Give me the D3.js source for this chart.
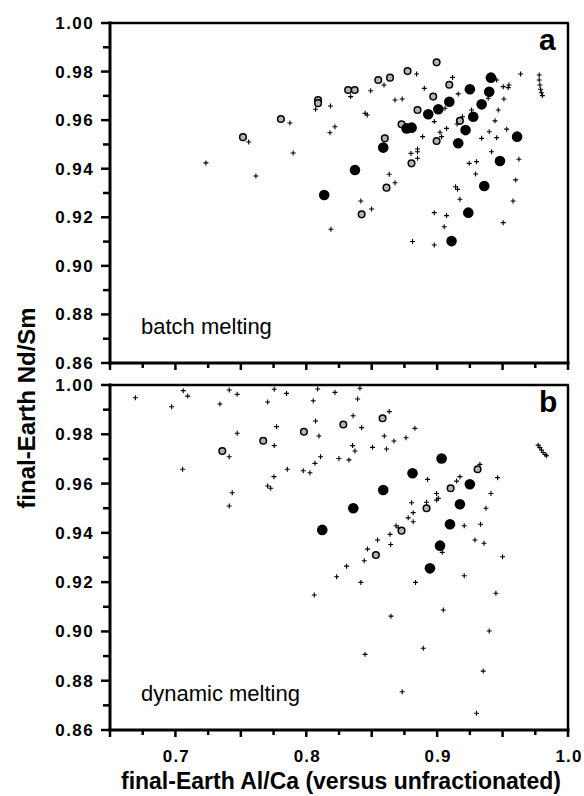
<!DOCTYPE html>
<html>
<head>
<meta charset="utf-8">
<script src="https://cdn.jsdelivr.net/npm/d3@7"></script>
<style>
  body { margin: 0; background: #fff; }
  svg text { font-family: "Liberation Sans", Arial, sans-serif; }
</style>
</head>
<body>
<div id="chart"></div>
<script>
// panel a: batch melting, [Al/Ca, Nd/Sm]
const batchCross = [
  [0.7875,0.9588],[0.756,0.951],[0.7233,0.9424],[0.7615,0.937],[0.790,0.9465],
  [0.8843,0.979],[0.9118,0.9776],[0.8902,0.9731],[0.9161,0.9708],[0.8492,0.9721],
  [0.8339,0.9697],[0.8594,0.9745],[0.8678,0.9683],[0.8733,0.9687],[0.8185,0.9658],
  [0.8071,0.9645],[0.845,0.9628],[0.8466,0.9621],[0.8219,0.9573],[0.8181,0.9548],
  [0.8978,0.9594],[0.906,0.9649],[0.9072,0.9566],[0.9022,0.955],[0.9034,0.9532],
  [0.8889,0.9532],[0.9153,0.9584],[0.9194,0.9614],[0.9263,0.9642],
  [0.885,0.9481],[0.885,0.947],[0.88,0.9463],[0.885,0.9443],[0.9245,0.9422],
  [0.9301,0.9429],[0.9294,0.9378],
  [0.934,0.9525],[0.9398,0.9552],[0.9455,0.9528],[0.9467,0.9642],[0.9442,0.9597],
  [0.9531,0.9563],[0.9416,0.947],[0.9455,0.9765],[0.939,0.969],[0.9505,0.9738],
  [0.9543,0.9734],[0.9549,0.9745],[0.951,0.9687],[0.9638,0.979],
  [0.978,0.9786],[0.978,0.9765],[0.9785,0.9745],[0.979,0.9727],[0.9797,0.9713],[0.9804,0.9701],
  [0.9625,0.9439],[0.96,0.9354],[0.8634,0.9377],[0.8678,0.9342],[0.9141,0.9326],
  [0.9156,0.9315],[0.9174,0.9274],[0.958,0.9267],[0.8417,0.9267],[0.8499,0.9234],
  [0.8978,0.9219],[0.9072,0.9207],[0.9054,0.9161],[0.9505,0.9178],[0.8188,0.9151],
  [0.8812,0.91],[0.8978,0.9086]
];
const batchGray = [
  [0.7806,0.9605],[0.7516,0.953],[0.809,0.9683],[0.809,0.967],[0.832,0.9724],
  [0.837,0.9724],[0.855,0.9765],[0.864,0.9775],[0.8774,0.9802],[0.8996,0.9838],
  [0.9093,0.9746],[0.897,0.9697],[0.885,0.9642],[0.8728,0.9583],[0.86,0.9525],
  [0.8996,0.9514],[0.9174,0.9597],[0.8804,0.9422],[0.8613,0.9322],[0.8423,0.9212]
];
const batchBlack = [
  [0.9411,0.9775],[0.9398,0.9717],[0.925,0.9727],[0.934,0.9665],[0.9276,0.9614],
  [0.9217,0.9559],[0.9161,0.9505],[0.9093,0.9676],[0.9009,0.9645],[0.8932,0.9624],
  [0.8805,0.9569],[0.8767,0.9566],[0.8588,0.9487],[0.9611,0.9532],[0.948,0.9432],
  [0.8372,0.9395],[0.936,0.9329],[0.8137,0.9292],[0.9238,0.9219],[0.911,0.9102]
];

// panel b: dynamic melting
const dynCross = [
  [0.6694,0.9948],[0.6971,0.9912],[0.706,0.9977],[0.7094,0.9955],[0.7055,0.9658],
  [0.734,0.9923],[0.7411,0.998],[0.7472,0.9962],[0.7472,0.9804],[0.7411,0.9709],
  [0.7434,0.9563],[0.7411,0.9509],[0.7755,0.9983],[0.7849,0.9966],[0.7705,0.9931],
  [0.7773,0.9831],[0.7755,0.9754],[0.7753,0.9628],[0.7705,0.959],[0.7728,0.9581],
  [0.7855,0.9658],
  [0.8087,0.9984],[0.8219,0.997],[0.841,0.9987],[0.8053,0.9936],[0.8392,0.9943],
  [0.8071,0.9854],[0.8097,0.9793],[0.8358,0.9875],[0.8423,0.9827],[0.8634,0.9892],
  [0.883,0.9824],[0.8596,0.9793],[0.867,0.9773],[0.8762,0.9786],[0.8354,0.9754],
  [0.8372,0.9732],[0.8506,0.9747],[0.8613,0.974],[0.8109,0.9709],[0.8066,0.9682],
  [0.8249,0.9702],[0.8326,0.9696],[0.7977,0.9652],[0.8028,0.9644],
  [0.9772,0.9756],[0.9785,0.9746],[0.9797,0.9736],[0.981,0.9726],[0.9825,0.9718],[0.9836,0.9713],
  [0.9327,0.9678],[0.9174,0.9628],[0.9149,0.961],[0.9462,0.9624],[0.9411,0.956],
  [0.9373,0.95],[0.9332,0.9435],[0.9207,0.9429],[0.9289,0.9371],[0.9358,0.9358],
  [0.95,0.9303],
  [0.8927,0.9617],[0.8996,0.956],[0.9009,0.954],[0.8996,0.9533],[0.8919,0.9524],
  [0.8805,0.9522],[0.8817,0.9482],[0.8779,0.9461],[0.8817,0.9445],[0.8686,0.9429],
  [0.8703,0.9421],[0.864,0.9394],[0.8645,0.9353],[0.8545,0.9371],[0.8468,0.9334],
  [0.8443,0.9287],[0.8308,0.9265],[0.9039,0.9321],
  [0.8232,0.9222],[0.8417,0.9199],[0.8061,0.9148],[0.8835,0.9199],[0.9207,0.9226],
  [0.9449,0.9155],[0.9047,0.9087],[0.8647,0.9062],[0.9398,0.9002],[0.8894,0.8932],
  [0.8449,0.8907],[0.9352,0.8839],[0.8733,0.8755],[0.9301,0.8668]
];
const dynGray = [
  [0.7358,0.9732],[0.7671,0.9774],[0.7982,0.981],[0.8283,0.984],[0.8583,0.9865],
  [0.9309,0.9658],[0.9103,0.9581],[0.8919,0.95],[0.8728,0.9409],[0.8532,0.931]
];
const dynBlack = [
  [0.9034,0.9702],[0.8812,0.9642],[0.8588,0.9574],[0.8359,0.95],[0.8122,0.9412],
  [0.925,0.9597],[0.9174,0.9516],[0.9098,0.9435],[0.9022,0.9348],[0.8945,0.9256]
];

const xTickLabels = [0.7, 0.8, 0.9, 1.0];
const yTickLabels = [0.86, 0.88, 0.90, 0.92, 0.94, 0.96, 0.98, 1.00];

const WIDTH = 584, HEIGHT = 796;
const LEFT = 110, RIGHT = 568;

const svg = d3.select("#chart").append("svg")
  .attr("width", WIDTH)
  .attr("height", HEIGHT);

const x = d3.scaleLinear().domain([0.65, 1.0]).range([LEFT, RIGHT]);

function drawPanel(top, bottom, cross, gray, black, letter, label, showXLabels) {
  const y = d3.scaleLinear().domain([0.86, 1.0]).range([bottom, top]);
  const g = svg.append("g");

  // frame top/right
  g.append("line").attr("x1", LEFT).attr("x2", RIGHT + 1).attr("y1", top).attr("y2", top)
    .attr("stroke", "#000").attr("stroke-width", 2.5);
  g.append("line").attr("x1", RIGHT).attr("x2", RIGHT).attr("y1", top).attr("y2", bottom)
    .attr("stroke", "#000").attr("stroke-width", 2.5);

  // x axis, minor ticks every 0.025
  const xTicks = d3.range(0, 15).map(i => 0.65 + i * 0.025);
  const xAx = g.append("g").attr("transform", `translate(0,${bottom})`);
  xAx.append("line").attr("x1", LEFT - 1.5).attr("x2", RIGHT + 1.5)
    .attr("stroke", "#000").attr("stroke-width", 3);
  xAx.selectAll(".xt").data(xTicks).enter().append("line")
    .attr("x1", d => x(d)).attr("x2", d => x(d))
    .attr("y1", 0).attr("y2", (d, i) => i % 2 === 0 ? 7 : 5)
    .attr("stroke", "#000").attr("stroke-width", 2.5);
  if (showXLabels) {
    xAx.selectAll(".xl").data(xTickLabels).enter().append("text")
      .attr("x", d => x(d) + 1).attr("y", 32)
      .attr("text-anchor", "middle")
      .attr("font-size", 17).attr("font-weight", "bold")
      .attr("letter-spacing", 1.2)
      .text(d => d.toFixed(1));
  }

  // y axis, minor ticks every 0.01
  const yTicks = d3.range(0, 15).map(i => 0.86 + i * 0.01);
  const yAx = g.append("g").attr("transform", `translate(${LEFT},0)`);
  yAx.append("line").attr("y1", top - 1.5).attr("y2", bottom + 1.5)
    .attr("stroke", "#000").attr("stroke-width", 3);
  yAx.selectAll(".yt").data(yTicks).enter().append("line")
    .attr("y1", d => y(d)).attr("y2", d => y(d))
    .attr("x1", (d, i) => i % 2 === 0 ? -9 : -7).attr("x2", 0)
    .attr("stroke", "#000").attr("stroke-width", 2.5);
  yAx.selectAll(".yl").data(yTickLabels).enter().append("text")
    .attr("x", -16).attr("y", d => y(d) + 6)
    .attr("text-anchor", "end")
    .attr("font-size", 17).attr("font-weight", "bold")
    .attr("letter-spacing", 1.4)
    .text(d => d.toFixed(2));

  // markers
  g.selectAll(".gray").data(gray).enter().append("circle")
    .attr("cx", d => x(d[0])).attr("cy", d => y(d[1])).attr("r", 3.3)
    .attr("fill", "#b4b4b4").attr("stroke", "#000").attr("stroke-width", 1.5);
  g.selectAll(".black").data(black).enter().append("circle")
    .attr("cx", d => x(d[0])).attr("cy", d => y(d[1])).attr("r", 5.3)
    .attr("fill", "#000");
  g.selectAll(".cross").data(cross).enter().append("path")
    .attr("d", d => {
      const cx = x(d[0]), cy = y(d[1]);
      return `M${cx - 2.5},${cy}H${cx + 2.5}M${cx},${cy - 2.5}V${cy + 2.5}`;
    })
    .attr("stroke", "#000").attr("stroke-width", 1.1).attr("fill", "none");

  g.append("text").attr("x", 539).attr("y", top + 27)
    .attr("font-size", 30).attr("font-weight", "bold").text(letter);
  g.append("text").attr("x", 141).attr("y", bottom - 29)
    .attr("font-size", 22).text(label);
}

drawPanel(23, 363, batchCross, batchGray, batchBlack, "a", "batch melting", false);
drawPanel(385, 730, dynCross, dynGray, dynBlack, "b", "dynamic melting", true);

svg.append("text")
  .attr("transform", "translate(35,408) rotate(-90)")
  .attr("text-anchor", "middle")
  .attr("font-size", 24).attr("font-weight", "bold")
  .text("final-Earth Nd/Sm");

svg.append("text")
  .attr("x", (LEFT + RIGHT) / 2 + 2).attr("y", 789)
  .attr("text-anchor", "middle")
  .attr("font-size", 23).attr("font-weight", "bold")
  .text("final-Earth Al/Ca (versus unfractionated)");
</script>
</body>
</html>
